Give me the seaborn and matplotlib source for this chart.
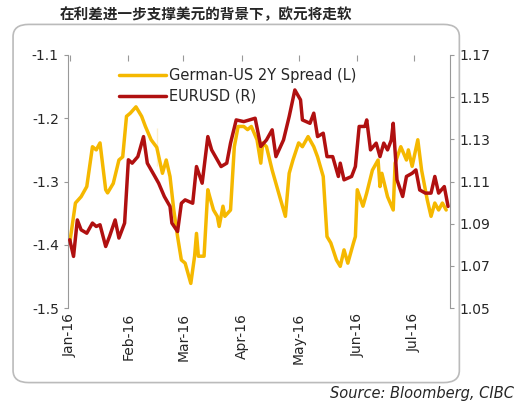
import numpy as np
import pandas as pd
import matplotlib.pyplot as plt
import matplotlib.dates as mdates
from matplotlib.patches import FancyBboxPatch
import seaborn as sns

sns.set_style('white')
plt.rcParams['font.family'] = ['DejaVu Sans', 'Noto Sans CJK SC']
plt.rcParams['axes.unicode_minus'] = False

# days after 2016-01-01 and values
spread_days = [0, 3, 6, 9, 12, 14, 16, 19, 20, 23, 26, 28, 30, 32, 35, 38, 40, 43, 46, 46, 49, 51, 53, 55, 57,
               59, 61, 64, 66, 67, 68, 71, 73, 74, 76, 78, 79, 81, 82, 85, 87, 89, 92, 94, 96, 99, 101, 102,
               104, 107, 109, 111, 114, 116, 118, 121, 123, 126, 129, 131, 134, 136, 138, 141, 143, 145, 147,
               150, 151, 152, 155, 157, 160, 163, 164, 165, 168, 171, 172, 175, 178, 179, 181, 184, 186, 189,
               191, 193, 195, 197, 199]
spread = [-1.397, -1.334, -1.324, -1.308, -1.245, -1.25, -1.239, -1.313, -1.318, -1.303, -1.266, -1.261,
          -1.197, -1.192, -1.182, -1.197, -1.213, -1.234, -1.216, -1.276, -1.287, -1.266, -1.292, -1.345,
          -1.387, -1.424, -1.429, -1.461, -1.418, -1.382, -1.418, -1.418, -1.313, -1.324, -1.345, -1.355,
          -1.371, -1.339, -1.355, -1.345, -1.245, -1.213, -1.213, -1.218, -1.213, -1.234, -1.271, -1.239,
          -1.245, -1.282, -1.303, -1.324, -1.355, -1.287, -1.266, -1.239, -1.245, -1.229, -1.245, -1.261,
          -1.292, -1.387, -1.397, -1.424, -1.434, -1.408, -1.429, -1.397, -1.387, -1.313, -1.339, -1.318,
          -1.282, -1.266, -1.308, -1.287, -1.324, -1.345, -1.271, -1.245, -1.266, -1.25, -1.276, -1.234,
          -1.282, -1.329, -1.355, -1.334, -1.345, -1.334, -1.345]

eurusd_days = [0, 2, 4, 6, 9, 12, 14, 16, 19, 21, 24, 26, 29, 31, 33, 36, 39, 41, 45, 47, 50, 53, 54, 57,
               59, 61, 65, 67, 70, 73, 75, 80, 83, 85, 88, 92, 95, 98, 101, 104, 107, 109, 113, 116, 119,
               122, 123, 127, 129, 131, 134, 136, 139, 142, 143, 145, 149, 151, 153, 156, 157, 159, 162,
               164, 166, 168, 170, 171, 173, 176, 178, 181, 183, 185, 188, 191, 193, 195, 198, 200]
eurusd = [1.0824, 1.0745, 1.0918, 1.0871, 1.0855, 1.0903, 1.0887, 1.0895, 1.0792, 1.0839, 1.0918, 1.0832,
          1.0903, 1.1203, 1.1187, 1.1218, 1.1313, 1.1187, 1.1124, 1.1092, 1.1029, 1.0982, 1.0903, 1.0863,
          1.0997, 1.1013, 1.0997, 1.1171, 1.1092, 1.1313, 1.125, 1.1171, 1.1187, 1.1282, 1.1392, 1.1384,
          1.1392, 1.14, 1.1266, 1.1297, 1.1345, 1.1218, 1.1297, 1.1408, 1.1534, 1.1487, 1.1392, 1.1376,
          1.1424, 1.1313, 1.1329, 1.1218, 1.1218, 1.1124, 1.1187, 1.1108, 1.1124, 1.1171, 1.1361, 1.1361,
          1.1392, 1.125, 1.1282, 1.1218, 1.1282, 1.125, 1.1297, 1.1376, 1.1108, 1.1029, 1.1124, 1.1139,
          1.1155, 1.106, 1.1045, 1.1045, 1.1124, 1.1045, 1.1076, 1.0982]

start = pd.Timestamp('2016-01-01')
df_l = pd.DataFrame({'date': start + pd.to_timedelta(spread_days, unit='D'), 'v': spread})
df_r = pd.DataFrame({'date': start + pd.to_timedelta(eurusd_days, unit='D'), 'v': eurusd})

fig = plt.figure(figsize=(5.22, 4.07), dpi=100)
fig.patches.append(FancyBboxPatch((0.025, 0.06), 0.855, 0.88, boxstyle='round,pad=0,rounding_size=0.03',
                                  transform=fig.transFigure, fill=False, edgecolor='#bbbbbb', lw=1.2))
ax = fig.add_axes([0.13, 0.243, 0.732, 0.622])
ax2 = ax.twinx()

sns.lineplot(data=df_l, x='date', y='v', ax=ax, color='#f5b800', lw=2.5, label='German-US 2Y Spread (L)', legend=False)
sns.lineplot(data=df_r, x='date', y='v', ax=ax2, color='#b01010', lw=2.5, label='EURUSD (R)', legend=False)

ax.set_ylim(-1.5, -1.1)
ax.set_yticks([-1.5, -1.4, -1.3, -1.2, -1.1])
ax2.set_ylim(1.05, 1.17)
ax2.set_yticks([1.05, 1.07, 1.09, 1.11, 1.13, 1.15, 1.17])
ax.set_xlim(pd.Timestamp('2015-12-31'), pd.Timestamp('2016-07-20'))
ax.xaxis.set_major_locator(mdates.MonthLocator())
ax.xaxis.set_major_formatter(mdates.DateFormatter('%b-%y'))
for lab in ax.get_xticklabels():
    lab.set_rotation(90)
for a in (ax, ax2):
    a.set_xlabel('')
    a.set_ylabel('')
    a.tick_params(labelsize=10, length=3, color='#999999')
    for s in a.spines.values():
        s.set_visible(False)
ax.spines['left'].set_visible(True)
ax2.spines['right'].set_visible(True)
ax.spines['left'].set_color('#999999')
ax2.spines['right'].set_color('#999999')
ax.tick_params(axis='x', top=True, bottom=False, direction='in', length=4)
ax.tick_params(axis='y', left=True)
ax2.tick_params(axis='y', right=True)

h1, l1 = ax.get_legend_handles_labels()
h2, l2 = ax2.get_legend_handles_labels()
ax2.legend(h1 + h2, l1 + l2, loc='upper left', bbox_to_anchor=(0.1, 1.0), frameon=False,
           fontsize=10.5, handlelength=3.2, handletextpad=0.2, labelspacing=0.4)

fig.text(0.115, 0.965, '在利差进一步支撑美元的背景下，欧元将走软', fontsize=10.5, fontweight='bold',
         family=['Noto Sans CJK SC', 'DejaVu Sans'], va='center')
fig.text(0.985, 0.015, 'Source: Bloomberg, CIBC', fontsize=10.5, style='italic', ha='right', va='bottom')

fig.savefig('out.png', dpi=100)
